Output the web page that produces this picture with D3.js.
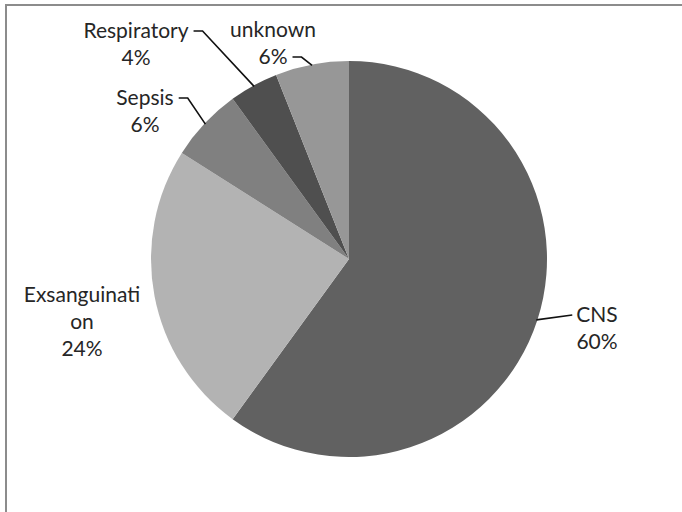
<!DOCTYPE html>
<html>
<head>
<meta charset="utf-8">
<script src="https://cdn.jsdelivr.net/npm/d3@7"></script>
<style>
  html, body { margin: 0; padding: 0; background: #fff; }
  svg { display: block; }
  text { font-family: Lato, "Open Sans", sans-serif; fill: #262626; }
</style>
</head>
<body>
<svg id="chart" width="682" height="512"></svg>
<script>
// Causes of death, share of cases (%)
const categories = ["CNS", "Exsanguination", "Sepsis", "Respiratory", "unknown"];
const shares = [60, 24, 6, 4, 6];
// label text lines as printed (the long label wraps mid-word)
const labelLines = [
  ["CNS", "60%"],
  ["Exsanguinati", "on", "24%"],
  ["Sepsis", "6%"],
  ["Respiratory", "4%"],
  ["unknown", "6%"]
];
const sliceColors = ["#616161", "#b3b3b3", "#808080", "#4f4f4f", "#979797"];

// label placement: text centre x, first baseline y, and which side the leader attaches
const labelLayout = {
  "CNS":            { x: 597, y: 322, leader: "left",  line: 0 },
  "Exsanguination": { x: 82,  y: 302, leader: null },
  "Sepsis":         { x: 145, y: 105, leader: "right", line: 0 },
  "Respiratory":    { x: 136, y: 38,  leader: "right", line: 0 },
  "unknown":        { x: 273, y: 37,  leader: "right", line: 1 }
};

const W = 682, H = 512;
const cx = 349, cy = 259, R = 198;
const lineGap = 27, fontSize = 21;

const svg = d3.select("#chart");

// frame edges
svg.append("line").attr("x1", 5).attr("x2", W).attr("y1", 5).attr("y2", 5)
  .attr("stroke", "#8c8c8c").attr("stroke-width", 2);
svg.append("line").attr("x1", 6).attr("x2", 6).attr("y1", 4).attr("y2", H)
  .attr("stroke", "#8c8c8c").attr("stroke-width", 2);

const color = d3.scaleOrdinal().domain(categories).range(sliceColors);
const pie = d3.pie().sort(null).value(d => d.value);
const data = categories.map((c, i) => ({ name: c, value: shares[i], lines: labelLines[i] }));
const arcs = pie(data);

const arc = d3.arc().innerRadius(0).outerRadius(R);
const edgeArc = d3.arc().innerRadius(R - 1).outerRadius(R - 1);

const g = svg.append("g").attr("transform", `translate(${cx},${cy})`);
g.selectAll("path.slice")
  .data(arcs)
  .join("path")
  .attr("class", "slice")
  .attr("d", arc)
  .attr("fill", d => color(d.data.name));

// labels
const labels = svg.append("g");
arcs.forEach(a => {
  const lay = labelLayout[a.data.name];
  const t = labels.append("text")
    .attr("text-anchor", "middle")
    .attr("font-size", fontSize);
  a.data.lines.forEach((ln, i) => {
    t.append("tspan").attr("x", lay.x).attr("y", lay.y + i * lineGap).text(ln);
  });
  if (!lay.leader) return;
  // leader line: short horizontal stub at the label, then to the slice edge at mid-angle
  const tspan = t.selectAll("tspan").nodes()[lay.line];
  const w = tspan.getComputedTextLength();
  const ly = lay.y + lay.line * lineGap - fontSize * 0.33;
  const [ex, ey] = edgeArc.centroid(a);
  const px = cx + ex, py = cy + ey;
  let pts;
  if (lay.leader === "right") {
    const x0 = lay.x + w / 2 + 5;
    pts = [[x0, ly], [x0 + 9, ly], [px, py]];
  } else {
    const x0 = lay.x - w / 2 - 4;
    pts = [[x0, ly], [px, py]];
  }
  svg.append("path")
    .attr("d", d3.line()(pts))
    .attr("fill", "none")
    .attr("stroke", "#111")
    .attr("stroke-width", 1.6);
});
</script>
</body>
</html>
